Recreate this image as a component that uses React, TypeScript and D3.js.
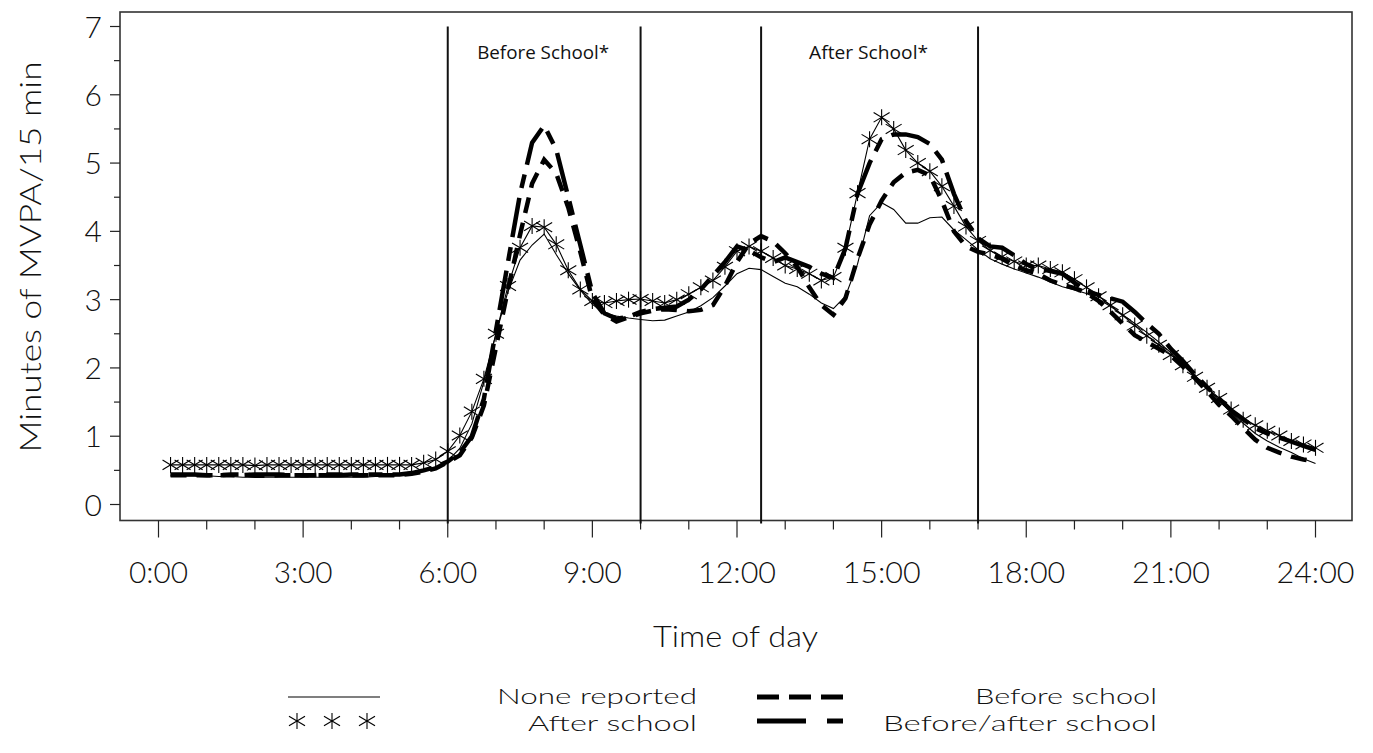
import React from 'react';
import * as d3 from 'd3';

// quarter-hour slots 0:15 .. 24:00
const slotStart = 0.25;
const slotStep = 0.25;

const noneReported = [
  0.42, 0.42, 0.42, 0.42, 0.41, 0.41, 0.40, 0.40, 0.40, 0.40, 0.40, 0.40, 0.40, 0.40, 0.40, 0.40, 0.40, 0.41, 0.41,
  0.43, 0.45, 0.49, 0.55, 0.64, 0.82, 1.18, 1.80, 2.50, 3.12, 3.58, 3.80, 3.96, 3.66, 3.38, 3.14, 2.93, 2.80, 2.76, 2.73,
  2.71, 2.69, 2.70, 2.76, 2.82, 2.91, 3.03, 3.20, 3.38, 3.46, 3.44, 3.34, 3.24, 3.19, 3.08, 2.95, 2.87, 3.05, 3.52, 4.23,
  4.42, 4.32, 4.12, 4.12, 4.20, 4.21, 4.02, 3.88, 3.73, 3.60, 3.52, 3.45, 3.39, 3.33, 3.26, 3.19, 3.14, 3.09, 3.01, 2.90,
  2.78, 2.65, 2.52, 2.38, 2.22, 2.06, 1.89, 1.71, 1.52, 1.35, 1.19, 1.04, 0.93, 0.84, 0.76, 0.67, 0.60,
];

const afterSchool = [
  0.58, 0.58, 0.58, 0.58, 0.58, 0.58, 0.58, 0.57, 0.58, 0.58, 0.58, 0.58, 0.58, 0.58, 0.58, 0.58, 0.58, 0.58, 0.58, 0.58,
  0.58, 0.61, 0.66, 0.78, 1.01, 1.36, 1.84, 2.50, 3.20, 3.76, 4.08, 4.06, 3.81, 3.43, 3.15, 2.98, 2.95, 2.98, 3.00, 3.01,
  2.98, 2.95, 3.00, 3.08, 3.18, 3.28, 3.48, 3.71, 3.78, 3.71, 3.61, 3.50, 3.45, 3.38, 3.28, 3.33, 3.76, 4.56, 5.35, 5.67,
  5.50, 5.19, 5.00, 4.88, 4.66, 4.37, 4.07, 3.86, 3.72, 3.63, 3.56, 3.50, 3.50, 3.45, 3.40, 3.30, 3.18, 3.05, 2.92, 2.77,
  2.62, 2.47, 2.34, 2.19, 2.04, 1.87, 1.71, 1.56, 1.39, 1.24, 1.16, 1.08, 1.01, 0.93, 0.88, 0.83,
];

const beforeSchool = [
  0.43, 0.43, 0.43, 0.43, 0.43, 0.44, 0.44, 0.42, 0.42, 0.43, 0.43, 0.43, 0.43, 0.44, 0.44, 0.43, 0.43, 0.43, 0.43, 0.43,
  0.45, 0.48, 0.53, 0.62, 0.72, 0.98, 1.45, 2.30, 3.15, 3.95, 4.70, 5.05, 4.85, 4.35, 3.70, 3.00, 2.78, 2.68, 2.74, 2.80,
  2.84, 2.86, 2.85, 2.83, 2.85, 2.92, 3.20, 3.55, 3.82, 3.93, 3.85, 3.68, 3.48, 3.18, 2.92, 2.78, 3.02, 3.60, 4.10, 4.45,
  4.72, 4.86, 4.90, 4.82, 4.45, 4.00, 3.78, 3.70, 3.66, 3.60, 3.50, 3.43, 3.38, 3.28, 3.22, 3.17, 3.10, 2.98, 2.82, 2.65,
  2.48, 2.38, 2.28, 2.18, 2.02, 1.85, 1.66, 1.46, 1.30, 1.12, 0.95, 0.83, 0.76, 0.70, 0.66, 0.63,
];

const beforeAfterSchool = [
  0.44, 0.44, 0.44, 0.43, 0.43, 0.43, 0.43, 0.44, 0.44, 0.44, 0.43, 0.43, 0.43, 0.43, 0.43, 0.44, 0.44, 0.44, 0.44, 0.44,
  0.46, 0.50, 0.55, 0.63, 0.76, 1.00, 1.55, 2.55, 3.55, 4.55, 5.30, 5.55, 5.20, 4.50, 3.80, 3.10, 2.80, 2.72, 2.75, 2.82,
  2.86, 2.88, 2.90, 3.00, 3.15, 3.35, 3.55, 3.78, 3.72, 3.62, 3.55, 3.62, 3.55, 3.48, 3.38, 3.32, 3.75, 4.55, 5.00, 5.35,
  5.42, 5.42, 5.38, 5.28, 5.05, 4.55, 4.15, 3.90, 3.78, 3.76, 3.65, 3.52, 3.45, 3.42, 3.38, 3.25, 3.12, 3.07, 3.02, 2.97,
  2.82, 2.65, 2.50, 2.28, 2.10, 1.90, 1.72, 1.55, 1.38, 1.25, 1.12, 1.04, 0.98, 0.92, 0.86, 0.80,
];

const xTickHours = [0, 3, 6, 9, 12, 15, 18, 21, 24];
const xTickLabels = ['0:00', '3:00', '6:00', '9:00', '12:00', '15:00', '18:00', '21:00', '24:00'];
const yTicks = [0, 1, 2, 3, 4, 5, 6, 7];
const periodLines = [6, 10, 12.5, 17];
const periodLabels = [
  { text: 'Before School*', from: 6, to: 10 },
  { text: 'After School*', from: 12.5, to: 17 },
];

const W = 1373;
const H = 753;
const frame = { left: 120, right: 1352, top: 12, bottom: 520.5 };
const x = d3.scaleLinear().domain([0, 24]).range([158.5, 1315.5]);
const y = d3.scaleLinear().domain([0, 7]).range([504.5, 26.5]);

const axisFont = 'Lato, "DejaVu Sans", sans-serif';

function toPoints(vals: number[]): [number, number][] {
  return vals.map((v, i) => [slotStart + i * slotStep, v]);
}

const lineGen = d3
  .line<[number, number]>()
  .x((d) => x(d[0]))
  .y((d) => y(d[1]))
  .curve(d3.curveLinear);

function Star({ cx, cy }: { cx: number; cy: number }) {
  const r = 8;
  const dx = 8;
  const dy = 4.8;
  return (
    <g stroke="#000" strokeWidth={1.1}>
      <line x1={cx} y1={cy - r} x2={cx} y2={cy + r} />
      <line x1={cx - dx} y1={cy - dy} x2={cx + dx} y2={cy + dy} />
      <line x1={cx - dx} y1={cy + dy} x2={cx + dx} y2={cy - dy} />
    </g>
  );
}

export default function App() {
  const minorX = d3.range(0, 25, 1);
  const minorY = d3.range(0, 7.01, 0.5);
  const asPts = toPoints(afterSchool);
  return (
    <svg
      width={W}
      height={H}
      style={{ position: 'absolute', left: 0, top: 0, background: '#fff' }}
      fontFamily={axisFont}
    >
      <rect x={0} y={0} width={W} height={H} fill="#fff" />
      {/* frame */}
      <rect
        x={frame.left}
        y={frame.top}
        width={frame.right - frame.left}
        height={frame.bottom - frame.top}
        fill="none"
        stroke="#333"
        strokeWidth={1.6}
      />
      {/* y ticks */}
      {minorY.map((v) => {
        const major = Math.abs(v - Math.round(v)) < 1e-6;
        return (
          <line
            key={'yt' + v}
            x1={frame.left - (major ? 10 : 6)}
            x2={frame.left}
            y1={y(v)}
            y2={y(v)}
            stroke="#222"
            strokeWidth={1.2}
          />
        );
      })}
      {yTicks.map((v) => (
        <text
          key={'yl' + v}
          x={102}
          y={y(v) + 11}
          textAnchor="end"
          fontSize={30}
          fontWeight={300}
          fill="#111"
        >
          {v}
        </text>
      ))}
      {/* x ticks */}
      {minorX.map((h) => {
        const major = h % 3 === 0;
        return (
          <line
            key={'xt' + h}
            x1={x(h)}
            x2={x(h)}
            y1={frame.bottom}
            y2={frame.bottom + (major ? 17 : 9)}
            stroke="#222"
            strokeWidth={1.2}
          />
        );
      })}
      {xTickHours.map((h, i) => (
        <text
          key={'xl' + h}
          x={x(h)}
          y={583}
          textAnchor="middle"
          fontSize={29}
          fontWeight={300}
          fill="#111"
          textLength={xTickLabels[i].length === 5 ? 78 : 59}
          lengthAdjust="spacingAndGlyphs"
        >
          {xTickLabels[i]}
        </text>
      ))}
      <text
        x={735.5}
        y={647}
        textAnchor="middle"
        fontSize={29}
        fontWeight={300}
        fill="#111"
        textLength={165}
        lengthAdjust="spacingAndGlyphs"
      >
        Time of day
      </text>
      <text
        transform={`translate(41,257) rotate(-90)`}
        textAnchor="middle"
        fontSize={30}
        fontWeight={300}
        fill="#111"
        textLength={391}
        lengthAdjust="spacingAndGlyphs"
      >
        Minutes of MVPA/15 min
      </text>
      {/* period lines */}
      {periodLines.map((h) => (
        <line
          key={'pl' + h}
          x1={x(h)}
          x2={x(h)}
          y1={y(7)}
          y2={frame.bottom + 3}
          stroke="#111"
          strokeWidth={2}
        />
      ))}
      {periodLabels.map((p) => (
        <text
          key={p.text}
          x={(x(p.from) + x(p.to)) / 2 - 1}
          y={59}
          textAnchor="middle"
          fontFamily='"Open Sans", "Noto Sans", sans-serif'
          fontSize={19}
          fill="#111"
          textLength={p.text.length > 13 ? 132 : 119}
          lengthAdjust="spacingAndGlyphs"
        >
          {p.text}
        </text>
      ))}
      {/* series */}
      <path d={lineGen(toPoints(noneReported)) || ''} fill="none" stroke="#000" strokeWidth={1.1} />
      <path d={lineGen(asPts) || ''} fill="none" stroke="#000" strokeWidth={1.1} />
      {asPts.map((p, i) => (
        <Star key={'st' + i} cx={x(p[0])} cy={y(p[1])} />
      ))}
      <path
        d={lineGen(toPoints(beforeSchool)) || ''}
        fill="none"
        stroke="#000"
        strokeWidth={4.5}
        strokeDasharray="16 10"
      />
      <path
        d={lineGen(toPoints(beforeAfterSchool)) || ''}
        fill="none"
        stroke="#000"
        strokeWidth={4.5}
        strokeDasharray="40 10 14 10"
      />
      {/* legend */}
      <line x1={288} x2={380} y1={697} y2={697} stroke="#000" strokeWidth={1.2} />
      {[297, 332, 367].map((cx) => (
        <Star key={'lg' + cx} cx={cx} cy={721} />
      ))}
      <line x1={757} x2={843} y1={697} y2={697} stroke="#000" strokeWidth={5} strokeDasharray="22 10" />
      <line x1={757} x2={843} y1={721} y2={721} stroke="#000" strokeWidth={5} strokeDasharray="49 21 16" />
      <text x={697} y={704} textAnchor="end" fontSize={22} fontWeight={300} fill="#111" textLength={200} lengthAdjust="spacingAndGlyphs">
        None reported
      </text>
      <text x={697} y={731} textAnchor="end" fontSize={22} fontWeight={300} fill="#111" textLength={169} lengthAdjust="spacingAndGlyphs">
        After school
      </text>
      <text x={1157} y={704} textAnchor="end" fontSize={22} fontWeight={300} fill="#111" textLength={182} lengthAdjust="spacingAndGlyphs">
        Before school
      </text>
      <text x={1157} y={731} textAnchor="end" fontSize={22} fontWeight={300} fill="#111" textLength={274} lengthAdjust="spacingAndGlyphs">
        Before/after school
      </text>
    </svg>
  );
}
